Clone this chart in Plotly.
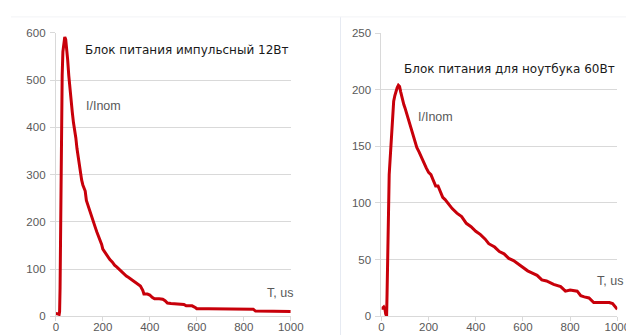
import plotly.graph_objects as go

# ---- data: left chart (pulse PSU 12W) ----
t_left = [0, 5, 10, 14, 16, 18, 20, 22, 24, 27, 30, 34, 38, 42, 46, 50, 55, 60, 65, 70,
          75, 80, 85, 90, 95, 100, 105, 110, 115, 120, 125, 130, 135, 140, 145, 150, 155,
          160, 165, 170, 175, 180, 185, 190, 195, 200, 205, 210, 215, 220, 230, 240, 250,
          260, 270, 280, 290, 300, 310, 320, 330, 340, 350, 360, 370, 375, 390, 400, 410,
          420, 440, 455, 465, 475, 490, 510, 530, 545, 555, 580, 595, 600, 650, 700, 750,
          800, 840, 850, 900, 950, 1000]
i_left = [6, 6, 5, 4, 10, 60, 200, 330, 430, 510, 560, 585, 591, 586, 570, 545, 510, 480, 455, 432,
          410, 395, 378, 355, 335, 318, 300, 288, 278, 272, 265, 245, 237, 228, 220, 212, 205,
          198, 192, 185, 178, 172, 168, 160, 152, 142, 138, 133, 130, 126, 120, 115, 108,
          104, 99, 96, 90, 85, 82, 78, 75, 72, 68, 64, 55, 47, 47, 45, 40,
          37, 37, 36, 33, 28, 27, 26, 26, 25, 22, 22, 18, 16, 16, 16, 16,
          15, 15, 11, 11, 11, 10]

# ---- data: right chart (laptop PSU 60W) ----
t_right = [0, 5, 10, 15, 18, 20, 22, 24, 27, 30, 33, 36, 40, 44, 48, 52, 57, 62, 67, 72,
           77, 82, 88, 95, 100, 110, 120, 130, 140, 150, 160, 170, 180, 190, 200, 210, 220,
           230, 240, 250, 260, 270, 280, 300, 320, 340, 360, 380, 400, 420, 440, 455, 480,
           500, 520, 540, 560, 580, 600, 620, 640, 660, 680, 700, 730, 760, 780, 800, 830,
           845, 860, 880, 900, 920, 940, 966, 980, 990, 1000]
i_right = [7, 7, 8, 6, 2, 0, 0, 20, 45, 90, 125, 135, 150, 165, 180, 190, 195, 199, 202, 204,
           203, 198, 192, 187, 184, 177, 170, 163, 156, 149, 145, 140, 136, 131, 127, 125, 120,
           115, 115, 110, 105, 103, 100, 95, 91, 88, 82, 79, 75, 72, 68, 64, 61,
           57, 55, 51, 49, 46, 43, 40, 38, 36, 32, 31, 28, 26, 22, 23, 22,
           18, 17, 16, 12, 12, 12, 12, 11, 8, 6]

left_ticks_y = [0, 100, 200, 300, 400, 500, 600]
right_ticks_y = [0, 50, 100, 150, 200, 250]
ticks_x = [0, 200, 400, 600, 800, 1000]

title_left = "Блок питания импульсный 12Вт"
title_right = "Блок питания для ноутбука 60Вт"
y_label = "I/Inom"
x_label = "T, us"

W, H = 634, 335
RED = "#c8000a"
GRID = "#d9d9d9"
TICKFONT = dict(family="Liberation Sans, Arial, sans-serif", size=11.5, color="#595959")


def px(x):
    return x / W


def py(y):
    return (H - y) / H


fig = go.Figure()
fig.add_trace(go.Scatter(x=t_left, y=i_left, mode="lines", xaxis="x", yaxis="y",
                         line=dict(color=RED, width=3), showlegend=False))
fig.add_trace(go.Scatter(x=t_right, y=i_right, mode="lines", xaxis="x2", yaxis="y2",
                         line=dict(color=RED, width=3), showlegend=False))

xa = dict(range=[0, 1000], tickvals=ticks_x, showgrid=False, zeroline=False,
          showline=True, linecolor=GRID, linewidth=1, ticks="outside", ticklen=4,
          tickcolor=GRID, tickfont=TICKFONT, fixedrange=True, ticklabelstandoff=-4)
ya = dict(showgrid=True, gridcolor=GRID, gridwidth=1, zeroline=False,
          showline=True, linecolor=GRID, linewidth=1, ticks="outside", ticklen=5,
          tickcolor=GRID, tickfont=TICKFONT, fixedrange=True, ticklabelstandoff=2)

fig.update_layout(
    width=W, height=H,
    margin=dict(l=0, r=0, t=0, b=0),
    paper_bgcolor="white", plot_bgcolor="white",
    xaxis=dict(xa, domain=[px(46), px(287)], anchor="y"),
    yaxis=dict(ya, domain=[py(313.5), py(19.5)], range=[0, 600], tickvals=left_ticks_y, anchor="x"),
    xaxis2=dict(xa, domain=[px(380), px(622)], anchor="y2"),
    yaxis2=dict(ya, domain=[py(313.3), py(20)], range=[0, 250], tickvals=right_ticks_y, anchor="x2"),
    showlegend=False,
)

title_font = dict(family="DejaVu Sans, Verdana, sans-serif", size=12, color="#1a1a1a")
label_font = dict(family="Liberation Sans, Arial, sans-serif", size=12.5, color="#595959")

ann = [
    (title_left, 180.5, 37.7, title_font),
    (title_right, 511.5, 56.7, title_font),
    (y_label, 94.5, 95, label_font),
    (y_label, 436, 106.7, label_font),
    (x_label, 275.5, 289, label_font),
    (x_label, 615, 276.7, label_font),
]
for text, x, y, f in ann:
    fig.add_annotation(text=text, x=px(x), y=py(y), xref="paper", yref="paper",
                       xanchor="center", yanchor="middle", showarrow=False, font=f)

# faint frame lines of the original screenshot
fig.add_shape(type="line", xref="paper", yref="paper", x0=px(338), x1=px(338), y0=0, y1=py(3),
              line=dict(color="#e6eaf2", width=1))
fig.add_shape(type="line", xref="paper", yref="paper", x0=0, x1=1, y0=py(3), y1=py(3),
              line=dict(color="#f2f3f6", width=1))

fig.write_html("out.html")
